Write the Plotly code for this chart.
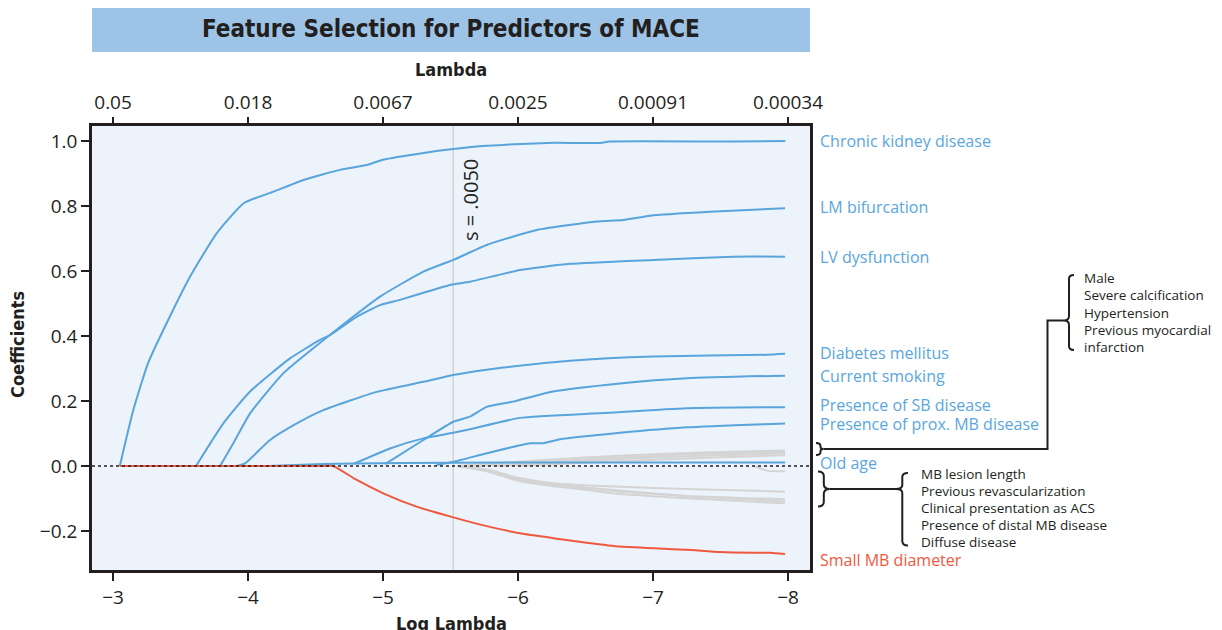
import math
import plotly.graph_objects as go

# ---------------- data (log lambda, coefficient) ----------------
ckd_x = [-3.05, -3.15, -3.26, -3.42, -3.57, -3.77, -3.97, -4.19, -4.41, -4.68, -4.88, -5.0, -5.3, -5.52, -5.77, -6.22, -6.61, -6.68, -7.6, -7.98]
ckd_y = [0, 0.172, 0.317, 0.459, 0.582, 0.717, 0.809, 0.844, 0.880, 0.911, 0.926, 0.942, 0.963, 0.975, 0.985, 0.994, 0.994, 0.998, 0.998, 1.0]

lm_x = [-3.793, -3.891, -4.015, -4.261, -4.607, -4.978, -5.299, -5.521, -5.768, -6.139, -6.583, -6.78, -6.978, -7.422, -7.978]
lm_y = [0, 0.070, 0.162, 0.285, 0.403, 0.521, 0.598, 0.634, 0.680, 0.726, 0.752, 0.757, 0.770, 0.782, 0.793]

lv_x = [-3.615, -3.817, -4.015, -4.311, -4.533, -4.607, -4.805, -4.978, -5.126, -5.324, -5.521, -5.644, -6.015, -6.385, -7.002, -7.593, -7.978]
lv_y = [0, 0.131, 0.229, 0.331, 0.388, 0.403, 0.459, 0.495, 0.511, 0.536, 0.559, 0.567, 0.603, 0.622, 0.634, 0.644, 0.644]

dm_x = [-3.916, -3.978, -4.163, -4.361, -4.558, -4.953, -5.299, -5.521, -5.891, -6.385, -7.002, -7.842, -7.978]
dm_y = [0, 0.008, 0.080, 0.131, 0.172, 0.228, 0.259, 0.280, 0.303, 0.324, 0.337, 0.342, 0.345]

smk_x = [-5.015, -5.299, -5.521, -5.644, -5.768, -5.963, -6.259, -6.756, -7.252, -7.978]
smk_y = [0.006, 0.080, 0.136, 0.152, 0.182, 0.198, 0.229, 0.254, 0.270, 0.278]

sb_x = [-4.78, -5.052, -5.299, -5.519, -5.644, -6.015, -6.63, -7.252, -7.978]
sb_y = [0.006, 0.054, 0.085, 0.102, 0.113, 0.148, 0.163, 0.178, 0.181]

prox_x = [-5.397, -5.521, -5.768, -6.089, -6.187, -6.311, -6.756, -7.25, -7.978]
prox_y = [0.003, 0.013, 0.039, 0.070, 0.070, 0.082, 0.102, 0.119, 0.131]

old_x = [-4.15, -4.5, -4.8, -5.5, -6.5, -7.978]
old_y = [0, 0.005, 0.008, 0.010, 0.011, 0.011]

small_x = [-3.05, -3.5, -4.0, -4.3, -4.55, -4.63, -4.805, -5.002, -5.249, -5.521, -5.768, -6.015, -6.261, -6.509, -6.756, -7.25, -7.496, -7.743, -7.867, -7.978]
small_y = [0, 0, 0, 0, 0, 0, -0.043, -0.084, -0.125, -0.158, -0.185, -0.207, -0.222, -0.236, -0.248, -0.258, -0.265, -0.267, -0.267, -0.271]

# unlabeled (grey) coefficient paths
grey_paths = [
    ([-5.55, -6.0, -6.5, -7.0, -7.5, -7.978], [0, 0.013, 0.026, 0.036, 0.043, 0.048]),
    ([-5.7, -6.2, -6.7, -7.2, -7.6, -7.978], [0, 0.013, 0.025, 0.035, 0.040, 0.044]),
    ([-5.85, -6.3, -6.8, -7.3, -7.978], [0, 0.011, 0.022, 0.031, 0.039]),
    ([-6.0, -6.5, -7.0, -7.5, -7.978], [0, 0.010, 0.019, 0.027, 0.033]),
    ([-5.55, -5.77, -6.02, -6.26, -6.76, -7.25, -7.978], [0, -0.012, -0.038, -0.053, -0.064, -0.071, -0.079]),
    ([-5.55, -5.77, -6.02, -6.26, -6.51, -6.76, -7.25, -7.978], [0, -0.015, -0.043, -0.058, -0.069, -0.079, -0.092, -0.102]),
    ([-5.55, -5.77, -6.02, -6.26, -6.51, -6.76, -7.25, -7.978], [0, -0.016, -0.048, -0.062, -0.074, -0.086, -0.099, -0.115]),
    ([-5.6, -5.8, -6.05, -6.3, -6.6, -6.9, -7.3, -7.978], [0, -0.013, -0.044, -0.058, -0.070, -0.081, -0.094, -0.109]),
    ([-7.75, -7.85, -7.978], [0, -0.015, -0.016]),
]

blue_series = [
    ("Chronic kidney disease", ckd_x, ckd_y),
    ("LM bifurcation", lm_x, lm_y),
    ("LV dysfunction", lv_x, lv_y),
    ("Diabetes mellitus", dm_x, dm_y),
    ("Current smoking", smk_x, smk_y),
    ("Presence of SB disease", sb_x, sb_y),
    ("Presence of prox. MB disease", prox_x, prox_y),
    ("Old age", old_x, old_y),
]

label_names = ["Chronic kidney disease", "LM bifurcation", "LV dysfunction", "Diabetes mellitus",
               "Current smoking", "Presence of SB disease", "Presence of prox. MB disease", "Old age",
               "Small MB diameter"]
label_y = [1.0, 0.797, 0.643, 0.348, 0.277, 0.188, 0.129, 0.009, -0.289]

pos_group = ["Male", "Severe calcification", "Hypertension", "Previous myocardial", "infarction"]
neg_group = ["MB lesion length", "Previous revascularization", "Clinical presentation as ACS",
             "Presence of distal MB disease", "Diffuse disease"]

x_ticks = [-3, -4, -5, -6, -7, -8]
lambda_ticks = ["0.05", "0.018", "0.0067", "0.0025", "0.00091", "0.00034"]
y_ticks = [1.0, 0.8, 0.6, 0.4, 0.2, 0.0, -0.2]
s_line = -5.52

# ---------------- styles ----------------
BLUE = "rgb(88,164,219)"
RED = "rgb(240,88,62)"
GREY = "rgb(212,212,212)"
DARK = "#231f20"
LBL_BLUE = "rgb(90,166,222)"
FONT = "Open Sans, Noto Sans, sans-serif"
BFONT = "DejaVu Sans Condensed, Liberation Sans Narrow, DejaVu Sans, sans-serif"

W, H = 1222, 630
L, R, T, B = 92, 810, 126, 570


def px(xp):
    return (xp - L) / (R - L)


def py(yp):
    return (B - yp) / (B - T)


SM = 0.5
fig = go.Figure()

for gx, gy in grey_paths:
    fig.add_trace(go.Scatter(x=gx, y=gy, mode="lines", line=dict(color=GREY, width=2, shape="spline", smoothing=SM),
                             hoverinfo="skip", showlegend=False))
for name, sx, sy in blue_series:
    fig.add_trace(go.Scatter(x=sx, y=sy, mode="lines", name=name,
                             line=dict(color=BLUE, width=2, shape="spline", smoothing=SM),
                             showlegend=False))
fig.add_trace(go.Scatter(x=small_x, y=small_y, mode="lines", name="Small MB diameter",
                         line=dict(color=RED, width=2, shape="spline", smoothing=SM), showlegend=False))
# invisible trace for the top (lambda) axis
fig.add_trace(go.Scatter(x=[x_ticks[0], x_ticks[-1]], y=[0, 0], xaxis="x2", mode="lines",
                         line=dict(width=0), hoverinfo="skip", showlegend=False))

xr = [-2.844, -8.163]
fig.update_layout(
    width=W, height=H,
    margin=dict(l=L, r=W - R, t=T, b=H - B),
    paper_bgcolor="white",
    plot_bgcolor="rgb(236,243,251)",
    xaxis=dict(range=xr, tickvals=x_ticks, ticktext=["−%d" % abs(v) for v in x_ticks],
               showgrid=False, zeroline=False, showline=True, linewidth=2.5, linecolor=DARK,
               mirror=True, ticks="outside", ticklen=8, tickwidth=2, tickcolor=DARK,
               tickfont=dict(family=FONT, size=19, color=DARK)),
    xaxis2=dict(range=xr, overlaying="x", side="top", anchor="y", tickvals=x_ticks,
                ticktext=lambda_ticks, showgrid=False, zeroline=False, showline=False,
                ticks="outside", ticklen=8, tickwidth=2, tickcolor=DARK,
                tickfont=dict(family=FONT, size=19, color=DARK)),
    yaxis=dict(range=[-0.32, 1.046], tickvals=y_ticks, ticktext=["%.1f" % v if v >= 0 else "−%.1f" % abs(v) for v in y_ticks],
               showgrid=False, zeroline=False, showline=True, linewidth=2.5, linecolor=DARK,
               mirror=True, ticks="outside", ticklen=8, tickwidth=2, tickcolor=DARK,
               tickfont=dict(family=FONT, size=19, color=DARK)),
)

shapes = []
# title box
shapes.append(dict(type="rect", xref="paper", yref="paper", x0=px(92), x1=px(810), y0=py(8), y1=py(52),
                   fillcolor="rgb(157,196,230)", line=dict(width=0), layer="above"))
# selected lambda line
shapes.append(dict(type="line", xref="x", yref="paper", x0=s_line, x1=s_line, y0=0, y1=1,
                   line=dict(color="rgb(208,210,214)", width=1.5), layer="below"))
# zero line (dotted)
shapes.append(dict(type="line", xref="paper", yref="y", x0=0, x1=1, y0=0, y1=0,
                   line=dict(color=DARK, width=1.6, dash="dot"), layer="above"))


def path_from_px(cmds):
    out = []
    for c in cmds:
        if isinstance(c, str):
            out.append(c)
        else:
            out.append("%.5f,%.5f" % (px(c[0]), py(c[1])))
    return " ".join(out)


bline = dict(color=DARK, width=2)
# upper "}" bracket + connector + "{"
up_brace = path_from_px(["M", (816, 443), "Q", (820.5, 443), (820.5, 446), "L", (820.5, 447),
                         "Q", (820.5, 449), (823.5, 449), "Q", (820.5, 449), (820.5, 451),
                         "L", (820.5, 452), "Q", (820.5, 455), (816, 455)])
shapes.append(dict(type="path", xref="paper", yref="paper", path=up_brace, line=bline))
up_conn = path_from_px(["M", (823.5, 449), "L", (1047.5, 449), "L", (1047.5, 320.5), "L", (1064, 320.5)])
shapes.append(dict(type="path", xref="paper", yref="paper", path=up_conn, line=bline))
up_curly = path_from_px(["M", (1074, 275), "Q", (1069, 275), (1069, 279), "L", (1069, 316),
                         "Q", (1069, 320.5), (1064, 320.5), "Q", (1069, 320.5), (1069, 325),
                         "L", (1069, 346), "Q", (1069, 350), (1074, 350)])
shapes.append(dict(type="path", xref="paper", yref="paper", path=up_curly, line=bline))

# lower "}" + connector + "{"
lo_brace = path_from_px(["M", (818, 471.5), "Q", (823.8, 471.5), (823.8, 476), "L", (823.8, 484),
                         "Q", (823.8, 489), (829.7, 489), "Q", (823.8, 489), (823.8, 494),
                         "L", (823.8, 502), "Q", (823.8, 506.5), (818, 506.5)])
shapes.append(dict(type="path", xref="paper", yref="paper", path=lo_brace, line=bline))
lo_conn = path_from_px(["M", (829.7, 489), "L", (896, 489)])
shapes.append(dict(type="path", xref="paper", yref="paper", path=lo_conn, line=bline))
lo_curly = path_from_px(["M", (908, 473), "Q", (902.3, 473), (902.3, 477), "L", (902.3, 485),
                         "Q", (902.3, 489), (896, 489), "Q", (902.3, 489), (902.3, 493),
                         "L", (902.3, 541), "Q", (902.3, 545.5), (908, 545.5)])
shapes.append(dict(type="path", xref="paper", yref="paper", path=lo_curly, line=bline))

annotations = []
annotations.append(dict(text="<b>Feature Selection for Predictors of MACE</b>", xref="paper", yref="paper",
                        x=px(451), y=py(29), showarrow=False, xanchor="center", yanchor="middle",
                        font=dict(family=BFONT, size=24, color=DARK)))
annotations.append(dict(text="<b>Lambda</b>", xref="paper", yref="paper", x=px(451), y=py(70),
                        showarrow=False, xanchor="center", yanchor="middle",
                        font=dict(family=BFONT, size=18, color=DARK)))
annotations.append(dict(text="<b>Log Lambda</b>", xref="paper", yref="paper", x=px(451), y=py(623),
                        showarrow=False, xanchor="center", yanchor="middle",
                        font=dict(family=BFONT, size=18, color=DARK)))
annotations.append(dict(text="<b>Coefficients</b>", xref="paper", yref="paper", x=px(17), y=py(345),
                        showarrow=False, xanchor="center", yanchor="middle", textangle=-90,
                        font=dict(family=BFONT, size=18, color=DARK)))
annotations.append(dict(text="s = .0050", xref="x", yref="paper", x=-5.645, y=py(200),
                        showarrow=False, xanchor="center", yanchor="middle", textangle=-90,
                        font=dict(family=FONT, size=20, color=DARK)))

for name, yv in zip(label_names, label_y):
    annotations.append(dict(text=name, xref="paper", yref="y", x=px(818), y=yv, showarrow=False,
                            xanchor="left", yanchor="middle",
                            font=dict(family=FONT, size=16, color=RED if name == "Small MB diameter" else LBL_BLUE)))

for i, t in enumerate(pos_group):
    annotations.append(dict(text=t, xref="paper", yref="paper", x=px(1082), y=py(278 + 17.3 * i),
                            showarrow=False, xanchor="left", yanchor="middle",
                            font=dict(family=FONT, size=13.5, color=DARK)))
for i, t in enumerate(neg_group):
    annotations.append(dict(text=t, xref="paper", yref="paper", x=px(919), y=py(474 + 17.1 * i),
                            showarrow=False, xanchor="left", yanchor="middle",
                            font=dict(family=FONT, size=13.5, color=DARK)))

fig.update_layout(shapes=shapes, annotations=annotations)
fig.write_html("out.html", config={"displayModeBar": False},
               post_script="document.body.style.margin='0px';document.body.style.overflow='hidden';")
